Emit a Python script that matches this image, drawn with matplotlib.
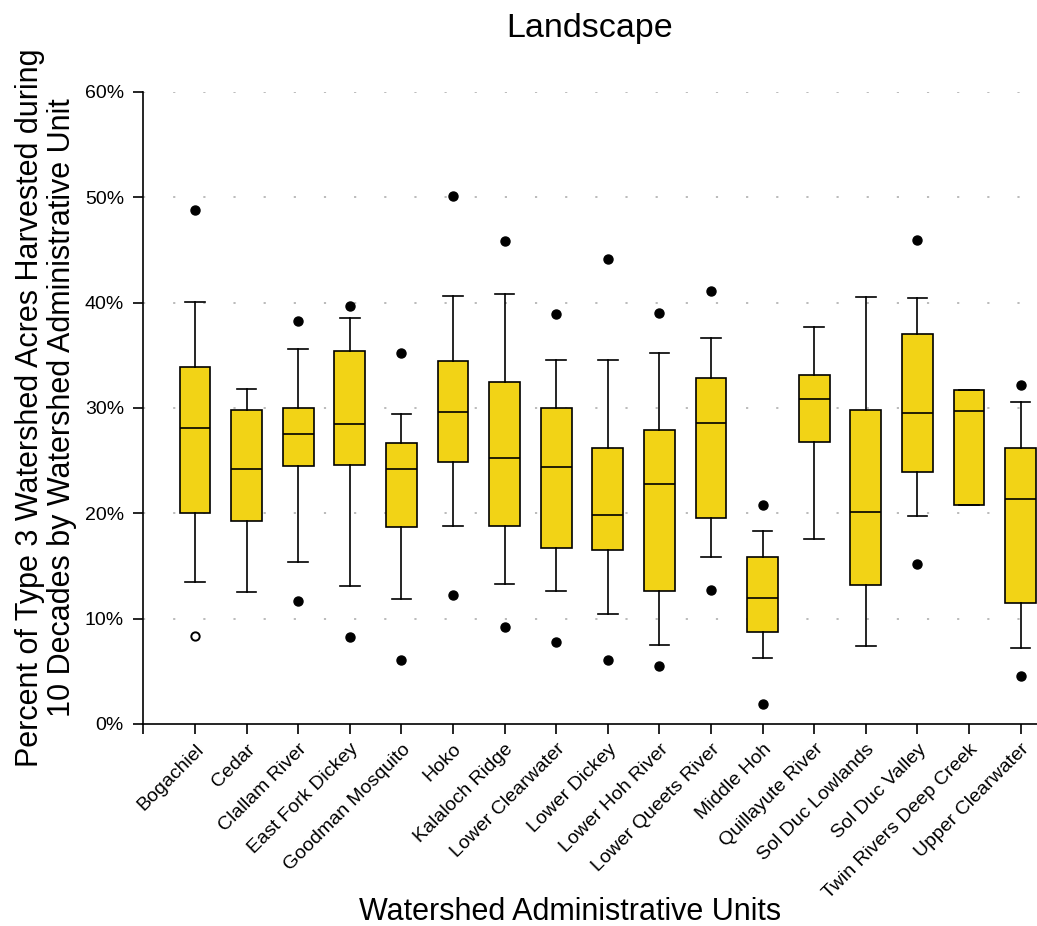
import matplotlib.pyplot as plt
import numpy as np

plt.rcParams['font.family'] = ['Liberation Sans', 'DejaVu Sans']

units = ["Bogachiel", "Cedar", "Clallam River", "East Fork Dickey",
         "Goodman Mosquito", "Hoko", "Kalaloch Ridge", "Lower Clearwater",
         "Lower Dickey", "Lower Hoh River", "Lower Queets River", "Middle Hoh",
         "Quillayute River", "Sol Duc Lowlands", "Sol Duc Valley",
         "Twin Rivers Deep Creek", "Upper Clearwater"]

# percent harvested, box/whisker summary per unit
whis_lo = [13.45, 12.56, 15.35, 13.1, 11.9, 18.83, 13.26, 12.63, 10.41, 7.53,
           15.89, 6.27, 17.53, 7.4, 19.75, 20.79, 7.18]
q1 = [20.06, 19.3, 24.49, 24.59, 18.7, 24.9, 18.77, 16.74, 16.49, 12.63,
      19.59, 8.71, 26.77, 13.2, 23.89, 20.79, 11.49]
median = [28.07, 24.18, 27.56, 28.45, 24.21, 29.65, 25.22, 24.37, 19.87, 22.75,
          28.55, 11.99, 30.89, 20.13, 29.56, 29.75, 21.36]
q3 = [33.92, 29.78, 30.03, 35.41, 26.68, 34.46, 32.47, 30.03, 26.2, 27.91,
      32.88, 15.85, 33.13, 29.81, 37.0, 31.71, 26.2]
whis_hi = [40.1, 31.8, 35.6, 38.58, 29.43, 40.63, 40.82, 34.56, 34.56, 35.19,
           36.65, 18.29, 37.69, 40.51, 40.44, 31.71, 30.57]
out_hi = [48.75, None, 38.29, 39.72, 35.2, 50.1, 45.86, 38.9, 44.18, 39.02,
          41.11, 20.82, None, None, 45.95, None, 32.15]
out_lo = [None, None, 11.71, 8.23, 6.1, 12.22, 9.18, 7.76, 6.1, 5.54,
          12.72, 1.9, None, None, 15.16, None, 4.59]
# extreme value drawn as an open circle
hollow = {"Bogachiel": 8.35}

stats = []
for i, name in enumerate(units):
    fl = [v for v in (out_hi[i], out_lo[i]) if v is not None]
    stats.append(dict(label=name, whislo=whis_lo[i], q1=q1[i], med=median[i],
                      q3=q3[i], whishi=whis_hi[i], fliers=fl))

fig = plt.figure(figsize=(10.37, 9.26), dpi=100)
ax = fig.add_axes([143.4 / 1037, 202 / 926, 928.8 / 1037, 632 / 926])

pos = np.arange(1, len(units) + 1)
line = dict(color='black', linewidth=1.2)
ax.bxp(stats, positions=pos, widths=0.6, capwidths=0.38, patch_artist=True,
       boxprops=dict(facecolor='#F2D316', edgecolor='black', linewidth=1.2),
       medianprops=line, whiskerprops=line, capprops=line,
       flierprops=dict(marker='o', markerfacecolor='black',
                       markeredgecolor='black', markersize=6.5, linestyle='none'),
       zorder=3)

for name, v in hollow.items():
    ax.plot(units.index(name) + 1, v, 'o', markerfacecolor='white',
            markeredgecolor='black', markeredgewidth=1.4, markersize=6, zorder=4)

ax.set_xlim(0, 18)
ax.set_ylim(0, 60)
ax.set_yticks(np.arange(0, 61, 10))
ax.set_yticklabels([f"{t}%" for t in range(0, 61, 10)], fontsize=14)
ax.set_xticks(np.arange(0, 18))
ax.set_xticklabels([""] + units, rotation=45, ha='right',
                   rotation_mode='anchor', fontsize=14)

for y in range(10, 61, 10):
    ax.axhline(y, color='#b5b5b5', linewidth=1.3, linestyle=(0, (1.2, 15.5)),
               zorder=1)

for s in ('top', 'right'):
    ax.spines[s].set_visible(False)
for s in ('left', 'bottom'):
    ax.spines[s].set_linewidth(1.2)
ax.tick_params(axis='both', length=7, width=1.2, direction='out')
ax.tick_params(axis='x', pad=5)
ax.tick_params(axis='y', pad=7)

fig.text(570 / 1037, 1 - 912 / 926, "Watershed Administrative Units",
         fontsize=22, ha='center', va='center')
fig.text(46 / 1037, 1 - 408 / 926,
         "Percent of Type 3 Watershed Acres Harvested during\n"
         "10 Decades by Watershed Administrative Unit",
         fontsize=22, linespacing=1.12, rotation=90, ha='center', va='center',
         multialignment='center')
fig.text(590 / 1037, 1 - 28 / 926, "Landscape", fontsize=24.5,
         ha='center', va='center')

fig.savefig("out.png", dpi=100)
